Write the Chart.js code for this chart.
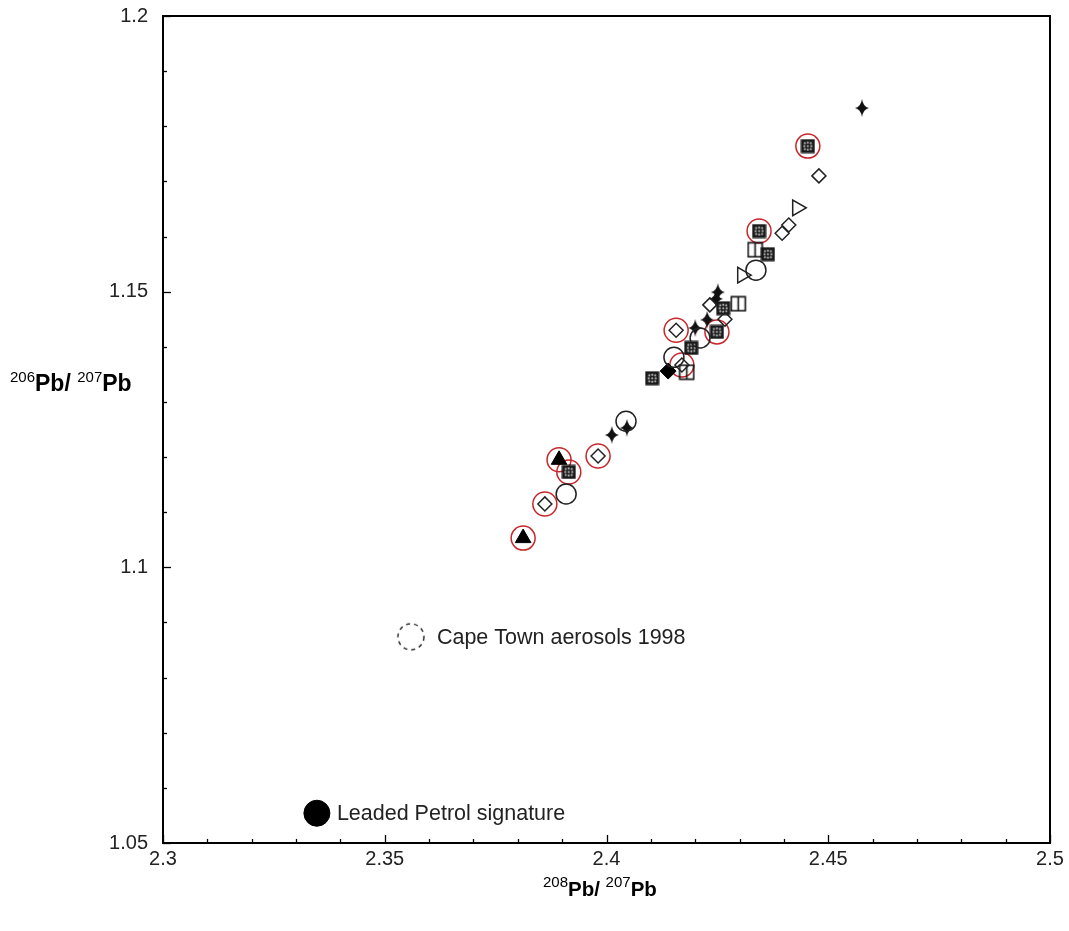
<!DOCTYPE html>
<html><head><meta charset="utf-8">
<script src="https://cdn.jsdelivr.net/npm/chart.js@4/dist/chart.umd.min.js"></script>
<style>html,body{margin:0;padding:0;background:#fff}#wrap{width:1069px;height:931px}</style>
</head><body><div id="wrap"><canvas id="c" width="1069" height="931"></canvas></div>
<script>
// ---- data ----
const hatchX = [2.4454, 2.4344, 2.4364, 2.4263, 2.4249, 2.4191, 2.4103, 2.3915];
const hatchY = [1.1764, 1.1610, 1.1568, 1.1470, 1.1427, 1.1398, 1.1343, 1.1173];
const diamondX = [2.4479, 2.4411, 2.4396, 2.4157, 2.4233, 2.4267, 2.4170, 2.3981, 2.3861];
const diamondY = [1.1710, 1.1621, 1.1606, 1.1430, 1.1476, 1.1450, 1.1367, 1.1202, 1.1115];
const splitSqX = [2.4335, 2.4297, 2.4181];
const splitSqY = [1.1576, 1.1478, 1.1354];
const circleX = [2.4337, 2.4152, 2.4211, 2.4044, 2.3909];
const circleY = [1.1539, 1.1381, 1.1416, 1.1265, 1.1133];
const triRX = [2.4306, 2.4430];
const triRY = [1.1530, 1.1652];
const starX = [2.4576, 2.4251, 2.4247, 2.4227, 2.4200, 2.4012, 2.4046];
const starY = [1.1833, 1.1499, 1.1487, 1.1449, 1.1434, 1.1240, 1.1253];
const filledTriX = [2.3893, 2.3812];
const filledTriY = [1.1195, 1.1053];
const filledDiaX = [2.4139];
const filledDiaY = [1.1356];
const redX = [2.4454, 2.4344, 2.4249, 2.3915, 2.4157, 2.4170, 2.3981, 2.3861, 2.3893, 2.3812];
const redY = [1.1764, 1.1610, 1.1427, 1.1173, 1.1430, 1.1367, 1.1202, 1.1115, 1.1195, 1.1053];
const petrolX = [2.3347], petrolY = [1.0554];
const capeX = [2.3559], capeY = [1.0874];
const annotations = ["Leaded Petrol signature", "Cape Town aerosols 1998"];
const xTicks = [2.3, 2.35, 2.4, 2.45, 2.5];
const yTicks = [1.05, 1.1, 1.15, 1.2];

const pts = (xs, ys) => xs.map((x, i) => ({x: x, y: ys[i]}));
function mk(w, h, draw) { const c = document.createElement('canvas'); c.width = w; c.height = h; draw(c.getContext('2d')); return c; }

const hatchImg = mk(15, 15, g => {
  g.fillStyle = '#1a1a1a'; g.fillRect(0.5, 0.5, 14, 14);
  g.fillStyle = '#e8e8e8';
  [[4,4],[10,4],[7,7],[4,10],[10,10],[7,3.5],[7,10.5],[3.5,7],[10.5,7]].forEach(p => { g.beginPath(); g.arc(p[0]+0.5, p[1]+0.5, 0.9, 0, Math.PI*2); g.fill(); });
});
const splitImg = mk(17, 17, g => {
  g.strokeStyle = '#111'; g.lineWidth = 1.6;
  g.strokeRect(1.5, 1.5, 14, 14);
  g.beginPath(); g.moveTo(8.5, 1.5); g.lineTo(8.5, 15.5); g.stroke();
});
const starImg = mk(16, 18, g => {
  g.fillStyle = '#111'; const cx = 8, cy = 9;
  g.beginPath();
  g.moveTo(cx, 0);
  g.quadraticCurveTo(cx+1.2, cy-1.2, 15, cy);
  g.quadraticCurveTo(cx+1.2, cy+1.2, cx, 18);
  g.quadraticCurveTo(cx-1.2, cy+1.2, 1, cy);
  g.quadraticCurveTo(cx-1.2, cy-1.2, cx, 0);
  g.fill();
});
const dashImg = mk(30, 30, g => {
  g.strokeStyle = '#333'; g.lineWidth = 1.5; g.setLineDash([4, 4]);
  g.beginPath(); g.arc(15, 15, 13, 0, Math.PI*2); g.stroke();
});

const FONT = "'Liberation Sans', Arial, sans-serif";

const decor = {
  id: 'decor',
  afterDraw(chart) {
    const g = chart.ctx, a = chart.chartArea, xs = chart.scales.x, ys = chart.scales.y;
    g.save();
    g.strokeStyle = '#000'; g.lineWidth = 2;
    g.strokeRect(a.left, a.top, a.right - a.left, a.bottom - a.top);
    g.lineWidth = 1.3;
    for (let i = 0; i <= 20; i++) {
      const v = 2.3 + i * 0.01, px = Math.round(xs.getPixelForValue(v)) + 0.5, L = (i % 5 === 0) ? 8 : 4;
      g.beginPath(); g.moveTo(px, a.bottom); g.lineTo(px, a.bottom - L); g.stroke();
    }
    for (let i = 0; i <= 15; i++) {
      const v = 1.05 + i * 0.01, py = Math.round(ys.getPixelForValue(v)) + 0.5, L = (i % 5 === 0) ? 8 : 4;
      g.beginPath(); g.moveTo(a.left, py); g.lineTo(a.left + L, py); g.stroke();
    }
    // annotations
    g.fillStyle = '#222'; g.font = '21.5px ' + FONT; g.textBaseline = 'middle'; g.textAlign = 'left';
    g.fillText(annotations[0], xs.getPixelForValue(petrolX[0]) + 20, ys.getPixelForValue(petrolY[0]) + 1);
    g.fillText(annotations[1], xs.getPixelForValue(capeX[0]) + 26, ys.getPixelForValue(capeY[0]) + 1);
    // axis titles with superscripts
    function title(x, base, parts, big) {
      let cx = x;
      g.textBaseline = 'alphabetic'; g.fillStyle = '#000';
      parts.forEach(p => {
        if (p[1]) { g.font = '15px ' + FONT; g.fillText(p[0], cx, base - 9); cx += g.measureText(p[0]).width; }
        else { g.font = 'bold ' + big + 'px ' + FONT; g.fillText(p[0], cx, base); cx += g.measureText(p[0]).width; }
      });
    }
    title(543, 896, [['208', 1], ['Pb/ ', 0], ['207', 1], ['Pb', 0]], 20.5);
    title(10, 391, [['206', 1], ['Pb/ ', 0], ['207', 1], ['Pb', 0]], 23);
    g.restore();
  }
};

new Chart(document.getElementById('c'), {
  type: 'scatter',
  data: { datasets: [
    { data: pts(petrolX, petrolY), pointStyle: 'circle', pointRadius: 13, backgroundColor: '#000', borderColor: '#000', borderWidth: 1 },
    { data: pts(capeX, capeY), pointStyle: dashImg },
    { data: pts(circleX, circleY), pointStyle: 'circle', pointRadius: 10, backgroundColor: 'rgba(0,0,0,0)', borderColor: '#222', borderWidth: 1.5 },
    { data: pts(diamondX, diamondY), pointStyle: 'rectRot', pointRadius: 7, backgroundColor: 'rgba(0,0,0,0)', borderColor: '#222', borderWidth: 1.5 },
    { data: pts(triRX, triRY), pointStyle: 'triangle', rotation: 90, pointRadius: 9, backgroundColor: 'rgba(0,0,0,0)', borderColor: '#222', borderWidth: 1.5 },
    { data: pts(splitSqX, splitSqY), pointStyle: splitImg },
    { data: pts(hatchX, hatchY), pointStyle: hatchImg },
    { data: pts(starX, starY), pointStyle: starImg },
    { data: pts(filledTriX, filledTriY), pointStyle: 'triangle', pointRadius: 9, backgroundColor: '#000', borderColor: '#000', borderWidth: 1 },
    { data: pts(filledDiaX, filledDiaY), pointStyle: 'rectRot', pointRadius: 8, backgroundColor: '#000', borderColor: '#000', borderWidth: 1 },
    { data: pts(redX, redY), pointStyle: 'circle', pointRadius: 12, backgroundColor: 'rgba(0,0,0,0)', borderColor: '#c8262b', borderWidth: 1.5 }
  ]},
  options: {
    responsive: false, animation: false, events: [],
    layout: { padding: { top: 16, right: 19, left: 0, bottom: 0 } },
    plugins: { legend: { display: false }, tooltip: { enabled: false } },
    scales: {
      x: {
        type: 'linear', min: 2.3, max: 2.5,
        grid: { display: false, drawTicks: false }, border: { display: false },
        afterFit: s => { s.height = 88; s.paddingLeft = 0; s.paddingRight = 0; },
        afterBuildTicks: s => { s.ticks = xTicks.map(v => ({ value: v })); },
        ticks: { padding: 4, color: '#222', font: { family: FONT, size: 20 }, autoSkip: false, maxRotation: 0,
          callback: v => String(+v.toFixed(2)) }
      },
      y: {
        type: 'linear', min: 1.05, max: 1.2,
        grid: { display: false, drawTicks: false }, border: { display: false },
        afterFit: s => { s.width = 163; s.paddingTop = 0; s.paddingBottom = 0; },
        afterBuildTicks: s => { s.ticks = yTicks.map(v => ({ value: v })); },
        ticks: { padding: 15, color: '#222', font: { family: FONT, size: 20 }, autoSkip: false,
          callback: v => String(+v.toFixed(2)) }
      }
    }
  },
  plugins: [decor]
});
</script></body></html>
